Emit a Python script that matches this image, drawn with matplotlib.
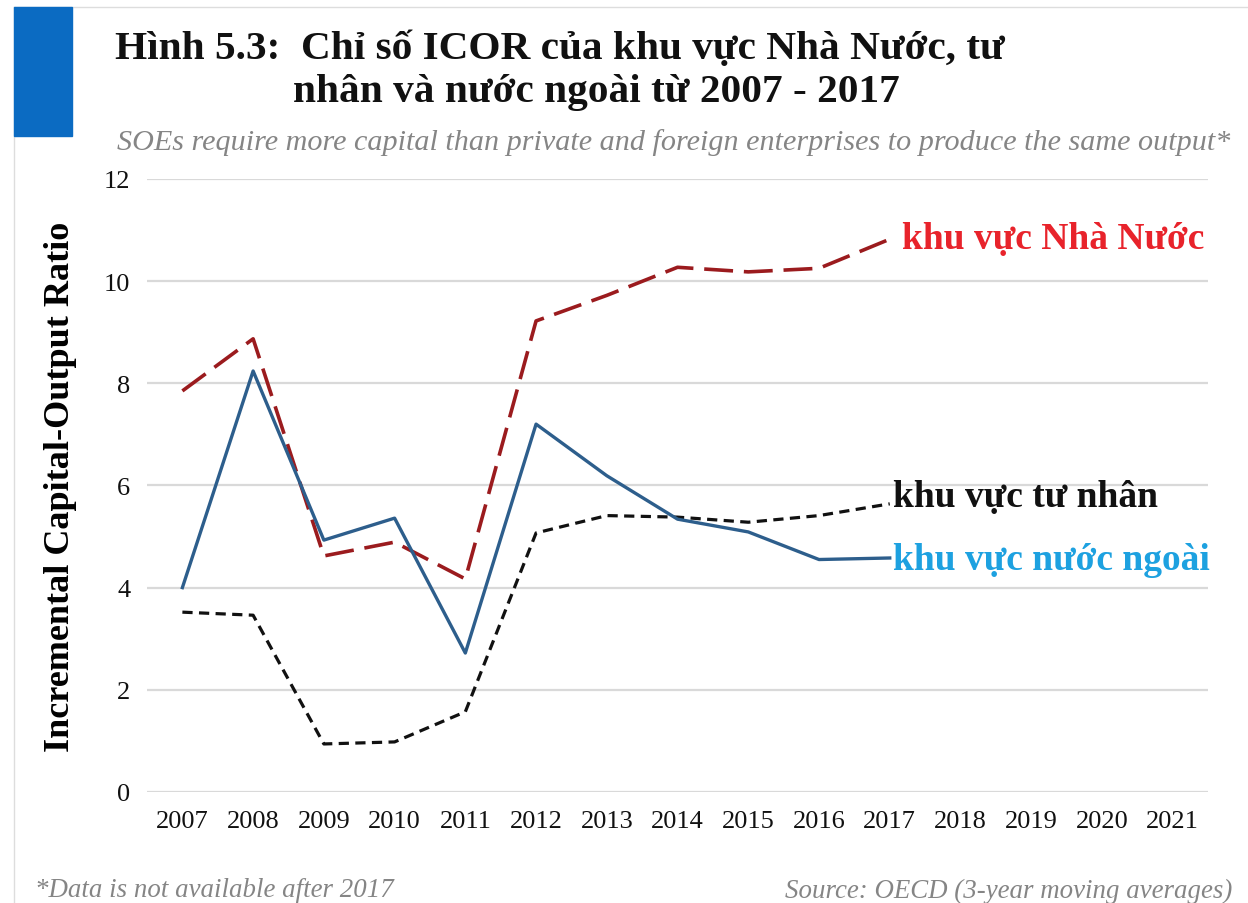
import matplotlib.pyplot as plt
from matplotlib.patches import Rectangle
from matplotlib.lines import Line2D

# data
years = [str(y) for y in range(2007, 2022)]
yr_data = list(range(2007, 2018))
nha_nuoc = [7.85, 8.87, 4.62, 4.89, 4.17, 9.22, 9.72, 10.27, 10.18, 10.25, 10.82]
tu_nhan = [3.52, 3.46, 0.94, 0.98, 1.57, 5.07, 5.41, 5.38, 5.28, 5.41, 5.64]
nuoc_ngoai = [4.0, 8.24, 4.93, 5.36, 2.72, 7.2, 6.19, 5.34, 5.09, 4.55, 4.58]
yticks = [0, 2, 4, 6, 8, 10, 12]

title_1 = 'Hình 5.3:  Chỉ số ICOR của khu vực Nhà Nước, tư'
title_2 = 'nhân và nước ngoài từ 2007 - 2017'
subtitle = 'SOEs require more capital than private and foreign enterprises to produce the same output*'
ylabel = 'Incremental Capital-Output Ratio'
note = '*Data is not available after 2017'
source = 'Source: OECD (3-year moving averages)'
lbl_nn = 'khu vực Nhà Nước'
lbl_tn = 'khu vực tư nhân'
lbl_ng = 'khu vực nước ngoài'

plt.rcParams['font.family'] = ['Liberation Serif', 'DejaVu Serif']

fig = plt.figure(figsize=(12.48, 9.04), dpi=100)
ax = fig.add_axes([0.1178, 0.1228, 0.968 - 0.1178, 0.801 - 0.1228])

x = [years.index(str(y)) for y in yr_data]

ax.plot(x, nha_nuoc, color='#9B1B1E', lw=2.6, dashes=(8, 3))
ax.plot(x, tu_nhan, color='#111111', lw=2.3, dashes=(3.2, 2))
ax.plot(x, nuoc_ngoai, color='#2D5E8C', lw=2.4)

ax.set_xlim(-0.5, len(years) - 0.5)
ax.set_ylim(0, 12)
ax.set_yticks(yticks)
ax.set_xticks(range(len(years)))
ax.set_xticklabels(years)
ax.tick_params(length=0, labelsize=19, pad=13, labelcolor='#111111')
ax.tick_params(axis='y', pad=12)
ax.grid(axis='y', color='#D9D9D9', lw=1.6)
ax.set_axisbelow(True)
for s in ax.spines.values():
    s.set_visible(False)

ax.set_ylabel(ylabel, fontsize=26, fontweight='bold', labelpad=19)

# series labels
ax.text(x[-1] + 0.17, nha_nuoc[-1] + 0.02, lbl_nn, color='#E8232B', fontsize=27,
        fontweight='bold', va='center', ha='left')
ax.text(x[-1] + 0.04, tu_nhan[-1] + 0.15, lbl_tn, color='#111111', fontsize=27,
        fontweight='bold', va='center', ha='left')
ax.text(x[-1] + 0.04, nuoc_ngoai[-1] - 0.02, lbl_ng, color='#1DA1E0', fontsize=27,
        fontweight='bold', va='center', ha='left')

# title block
fig.add_artist(Rectangle((14 / 1248, 1 - 137 / 904), 58 / 1248, 129 / 904,
                         transform=fig.transFigure, color='#0B6BC2', zorder=5))
fig.add_artist(Line2D([14 / 1248, 14 / 1248], [0, 1 - 8 / 904], transform=fig.transFigure,
                      color='#DDDDDD', lw=1))
fig.add_artist(Line2D([14 / 1248, 1], [1 - 8 / 904, 1 - 8 / 904], transform=fig.transFigure,
                      color='#DDDDDD', lw=1))
fig.text(115 / 1248, 1 - 59 / 904, title_1, fontsize=29.7, fontweight='bold', color='#111111')
fig.text(293 / 1248, 1 - 102 / 904, title_2, fontsize=29.7, fontweight='bold', color='#111111')
fig.text(1230 / 1248, 1 - 143 / 904, subtitle, fontsize=21.7, style='italic', color='#858585',
         ha='right', va='center')

fig.text(35 / 1248, 1 - 891 / 904, note, fontsize=19.4, style='italic', color='#858585',
         va='center')
fig.text(1232 / 1248, 1 - 891 / 904, source, fontsize=19.4, style='italic', color='#858585',
         va='center', ha='right')

fig.savefig('out.png', dpi=100)
